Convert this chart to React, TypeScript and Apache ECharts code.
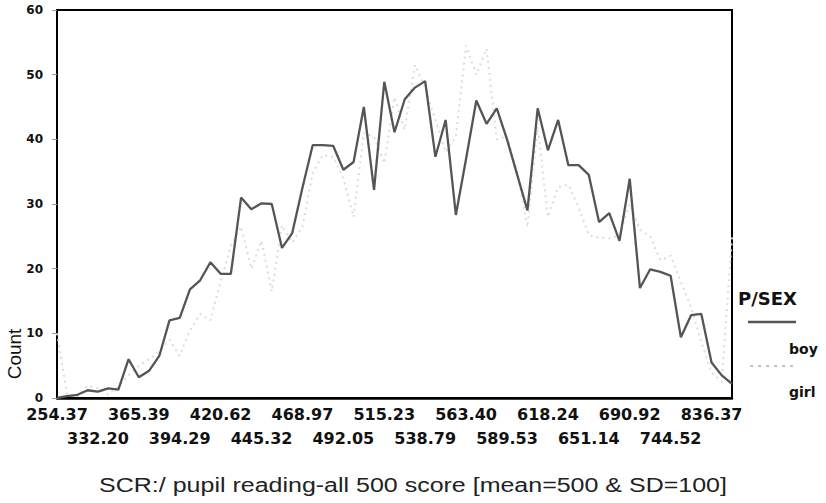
import React, { useEffect, useRef } from "react";
import * as echarts from "echarts";

// Tick labels shown on the x axis (every 4th category), ascending
const tickLabels = [
  "254.37", "332.20", "365.39", "394.29", "420.62", "445.32", "468.97", "492.05",
  "515.23", "538.79", "563.40", "589.53", "618.24", "651.14", "690.92", "744.52", "836.37",
];

// Counts per score category (67 categories)
const boyCounts = [
  0, 0.3, 0.5, 1.2, 1.0, 1.5, 1.3, 6.0, 3.2, 4.2,
  6.5, 12.0, 12.4, 16.8, 18.2, 21.0, 19.2, 19.2, 31.0, 29.2,
  30.1, 30.0, 23.2, 25.5, 32.5, 39.1, 39.1, 39.0, 35.3, 36.5,
  45.0, 32.2, 48.9, 41.1, 46.2, 48.0, 49.0, 37.3, 43.0, 28.3,
  37.0, 46.0, 42.4, 44.8, 40.0, 34.5, 29.0, 44.8, 38.3, 43.0,
  36.0, 36.0, 34.5, 27.2, 28.6, 24.3, 33.9, 17.0, 19.9, 19.5,
  18.9, 9.4, 12.8, 13.0, 5.5, 3.5, 2.2,
];

const girlCounts = [
  10, 0.5, 0.3, 1.9, 1.5, 0.5, 1.8, 3.5, 5.0, 6.0,
  7.2, 9.0, 6.5, 10.5, 13.0, 12.0, 18.0, 23.5, 26.5, 20.0,
  24.3, 16.5, 26.7, 24.0, 26.5, 34.8, 37.6, 37.3, 34.0, 28.0,
  41.0, 40.4, 36.3, 46.5, 41.5, 51.5, 48.0, 43.0, 38.0, 40.4,
  54.5, 50.0, 54.0, 40.0, 40.5, 35.0, 26.4, 42.0, 28.0, 32.6,
  33.0, 29.5, 25.2, 24.8, 24.7, 25.2, 30.0, 26.0, 25.0, 21.3,
  22.0, 18.0, 14.0, 8.7, 3.9, 2.5, 25.0,
];

const seriesNames = ["boy", "girl"];
const legendTitle = "P/SEX";
const xTitle = "SCR:/ pupil reading-all 500 score [mean=500 & SD=100]";
const yTitle = "Count";
const LABEL_STEP = 4;

export default function App() {
  const ref = useRef<HTMLDivElement>(null);

  useEffect(() => {
    document.body.style.margin = "0";
    if (!ref.current) return;
    const chart = echarts.init(ref.current, null, { renderer: "svg" });

    const categories = boyCounts.map((_, i) =>
      i % LABEL_STEP === 0 ? tickLabels[i / LABEL_STEP] : ""
    );

    const labelStyle = {
      fontFamily: "DejaVu Sans",
      fontWeight: "bold",
      fontSize: 16,
      color: "#111",
    };

    chart.setOption({
      animation: false,
      backgroundColor: "#ffffff",
      grid: {
        left: 57,
        right: 94,
        top: 10,
        bottom: 105,
        show: true,
        borderColor: "#000",
        borderWidth: 2,
        outerBoundsMode: "none",
      },
      xAxis: [
        {
          type: "category",
          data: categories,
          boundaryGap: false,
          position: "bottom",
          axisLine: { lineStyle: { color: "#000", width: 2.5 } },
          axisTick: { show: false },
          axisLabel: {
            ...labelStyle,
            margin: 8,
            interval: (index: number) => index % (LABEL_STEP * 2) === 0,
          },
          splitLine: { show: false },
        },
        {
          type: "category",
          data: categories,
          boundaryGap: false,
          position: "bottom",
          axisLine: { show: false },
          axisTick: { show: false },
          axisLabel: {
            ...labelStyle,
            margin: 32,
            interval: (index: number) => index % (LABEL_STEP * 2) === LABEL_STEP,
          },
          splitLine: { show: false },
        },
      ],
      yAxis: {
        type: "value",
        min: 0,
        max: 60,
        interval: 10,
        axisLine: { show: true, lineStyle: { color: "#000", width: 2 } },
        axisTick: { show: true, length: 5, lineStyle: { color: "#999", width: 1 } },
        axisLabel: {
          margin: 14,
          fontFamily: "DejaVu Sans",
          fontWeight: "bold",
          fontSize: 12,
          color: "#111",
        },
        splitLine: { show: false },
      },
      series: [
        {
          name: seriesNames[1],
          type: "line",
          xAxisIndex: 0,
          data: girlCounts,
          symbol: "none",
          z: 2,
          lineStyle: { color: "#dcdcdc", width: 2, type: [2, 4] },
        },
        {
          name: seriesNames[0],
          type: "line",
          xAxisIndex: 0,
          data: boyCounts,
          symbol: "none",
          z: 3,
          lineStyle: { color: "#555555", width: 2.3 },
        },
      ],
      graphic: [
        {
          type: "text",
          x: 14,
          y: 354,
          rotation: Math.PI / 2,
          style: {
            text: yTitle,
            fontFamily: "Liberation Sans",
            fontSize: 19,
            fill: "#111",
            align: "center",
            verticalAlign: "middle",
          },
        },
        {
          type: "text",
          x: 413,
          y: 485,
          scaleX: 1.25,
          style: {
            text: xTitle,
            fontFamily: "Liberation Sans",
            fontSize: 20,
            fill: "#222",
            align: "center",
            verticalAlign: "middle",
          },
        },
        {
          type: "text",
          x: 738,
          y: 298,
          style: {
            text: legendTitle,
            fontFamily: "DejaVu Sans",
            fontWeight: "bold",
            fontSize: 18,
            fill: "#111",
            align: "left",
            verticalAlign: "middle",
          },
        },
        {
          type: "line",
          shape: { x1: 748, y1: 322, x2: 796, y2: 322 },
          style: { stroke: "#555555", lineWidth: 2.3 },
        },
        {
          type: "text",
          x: 789,
          y: 349,
          style: {
            text: seriesNames[0],
            fontFamily: "DejaVu Sans",
            fontWeight: "bold",
            fontSize: 14,
            fill: "#111",
            align: "left",
            verticalAlign: "middle",
          },
        },
        {
          type: "line",
          shape: { x1: 750, y1: 366, x2: 794, y2: 366 },
          style: { stroke: "#c4c4c4", lineWidth: 2, lineDash: [3, 5] },
        },
        {
          type: "text",
          x: 789,
          y: 392,
          style: {
            text: seriesNames[1],
            fontFamily: "DejaVu Sans",
            fontWeight: "bold",
            fontSize: 14,
            fill: "#111",
            align: "left",
            verticalAlign: "middle",
          },
        },
      ],
    });

    return () => chart.dispose();
  }, []);

  return <div ref={ref} style={{ width: 826, height: 503 }} />;
}
